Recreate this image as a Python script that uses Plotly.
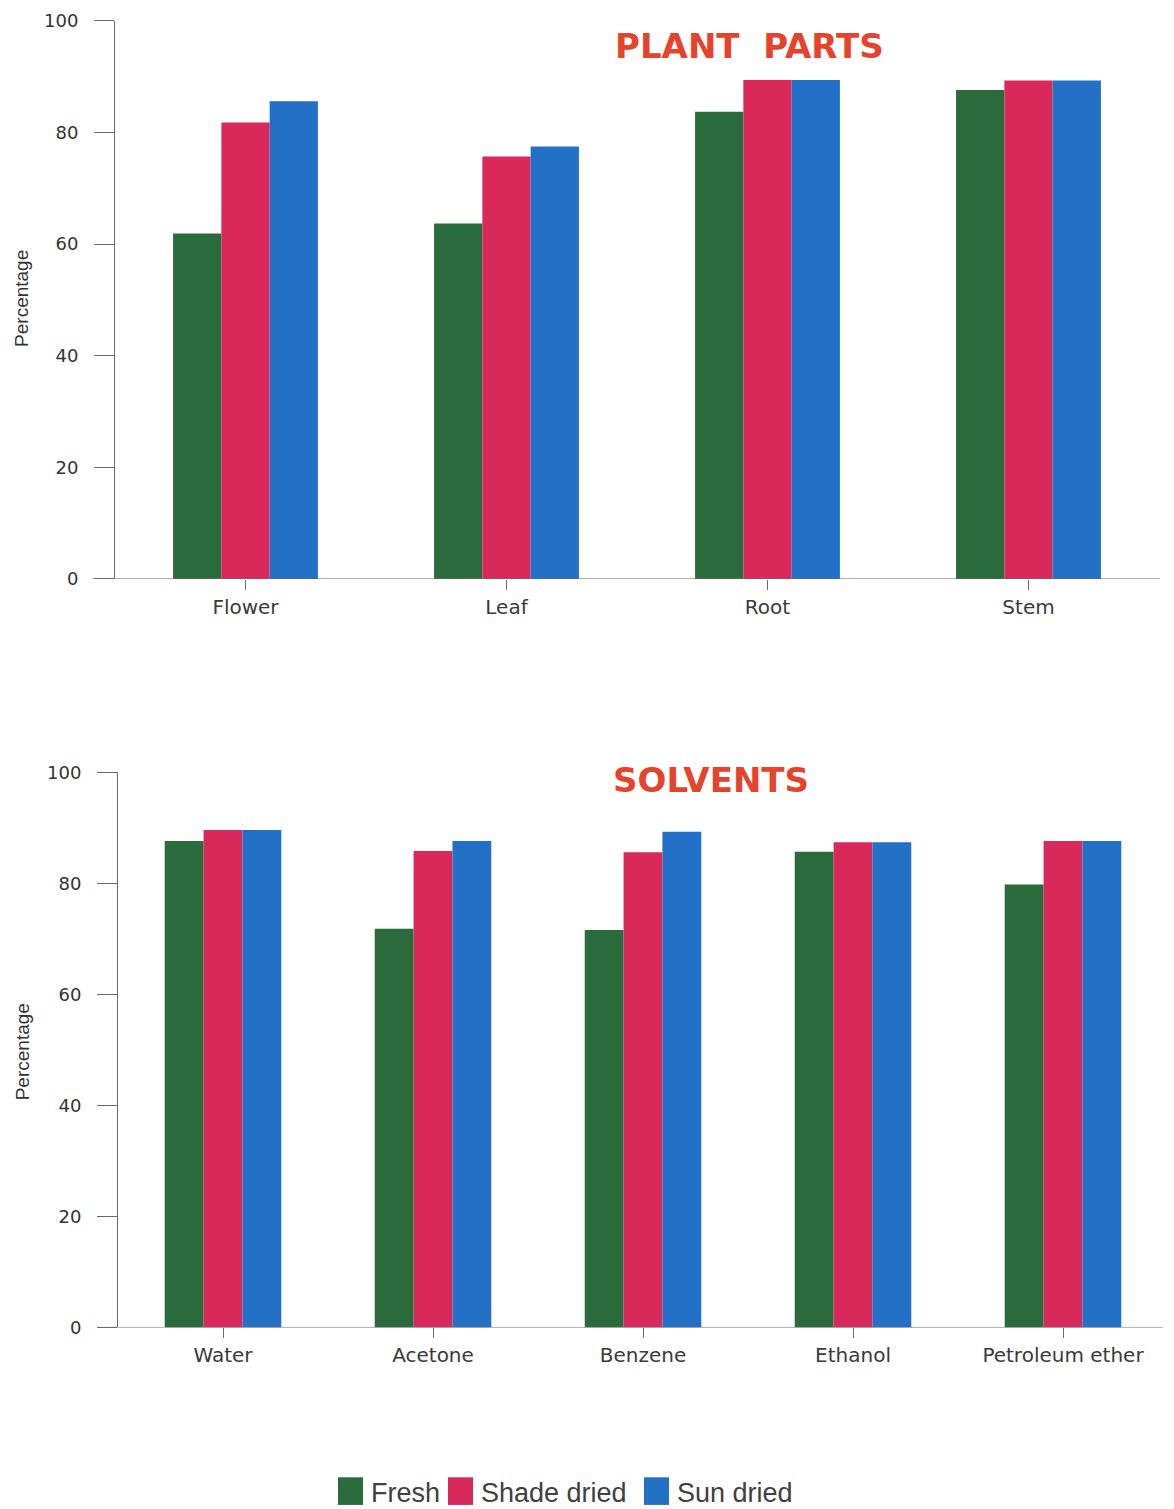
import plotly.graph_objects as go

# ---- data -------------------------------------------------------------
parts = ["Flower", "Leaf", "Root", "Stem"]
parts_fresh = [61.9, 63.7, 83.7, 87.6]
parts_shade = [81.8, 75.7, 89.4, 89.3]
parts_sun = [85.6, 77.5, 89.4, 89.3]

solvents = ["Water", "Acetone", "Benzene", "Ethanol", "Petroleum ether"]
solv_fresh = [87.6, 71.8, 71.6, 85.7, 79.8]
solv_shade = [89.6, 85.8, 85.6, 87.4, 87.6]
solv_sun = [89.6, 87.6, 89.3, 87.4, 87.6]

series_names = ["Fresh", "Shade dried", "Sun dried"]
series_colors = ["#2a6b3b", "#d8295a", "#2271c7"]
y_ticks = [0, 20, 40, 60, 80, 100]

W, H = 1174, 1509


def px_x(p):
    return p / W


def px_y(p):
    return 1 - p / H


TICK_FONT = dict(family="DejaVu Sans", size=18, color="#333333")
CAT_FONT = dict(family="DejaVu Sans", size=20, color="#3a3a3a")
AXIS_COLOR = "#6a6a6a"

fig = go.Figure()

panels = [
    ("x", "y", parts, [parts_fresh, parts_shade, parts_sun]),
    ("x2", "y2", solvents, [solv_fresh, solv_shade, solv_sun]),
]
for xa, ya, cats, values in panels:
    for name, color, vals in zip(series_names, series_colors, values):
        fig.add_trace(go.Bar(
            x=cats, y=vals, name=name, marker=dict(color=color, line=dict(width=0)),
            xaxis=xa, yaxis=ya, showlegend=False,
        ))


def y_axis(domain, anchor):
    return dict(
        domain=domain, range=[0, 100], anchor=anchor,
        tickvals=y_ticks, ticktext=[str(v) for v in y_ticks],
        ticks="outside", ticklen=20, tickcolor=AXIS_COLOR, tickwidth=1,
        ticklabelstandoff=12,
        showline=True, linecolor=AXIS_COLOR, linewidth=1,
        showgrid=False, zeroline=False, tickfont=TICK_FONT,
    )


def x_axis(domain, anchor):
    return dict(
        domain=domain, anchor=anchor, type="category",
        ticks="outside", ticklen=10, tickcolor=AXIS_COLOR, tickwidth=1,
        showline=False, showgrid=False, zeroline=False, tickfont=CAT_FONT,
        ticklabelstandoff=0,
    )


fig.update_layout(
    width=W, height=H,
    margin=dict(l=0, r=0, t=0, b=0),
    paper_bgcolor="white", plot_bgcolor="white",
    barmode="group", bargap=0.445, bargroupgap=0,
    xaxis=x_axis([px_x(115), px_x(1159)], "y"),
    yaxis=y_axis([px_y(576), px_y(10)], "x"),
    xaxis2=x_axis([px_x(118), px_x(1168)], "y2"),
    yaxis2=y_axis([px_y(1335), px_y(772)], "x2"),
    showlegend=False,
)

# baselines extend a little past the value axis
fig.add_shape(type="line", xref="paper", yref="y", x0=px_x(92), x1=px_x(1160),
              y0=0, y1=0, line=dict(color=AXIS_COLOR, width=1))
fig.add_shape(type="line", xref="paper", yref="y2", x0=px_x(97), x1=px_x(1163),
              y0=0, y1=0, line=dict(color=AXIS_COLOR, width=1))

TITLE_FONT = dict(family="DejaVu Sans", size=34, color="#e6432d", weight="bold")
fig.add_annotation(text="PLANT\u00a0\u00a0PARTS", xref="paper", yref="paper",
                   x=px_x(749), y=px_y(35), showarrow=False, font=TITLE_FONT,
                   xanchor="center", yanchor="middle")
fig.add_annotation(text="SOLVENTS", xref="paper", yref="paper",
                   x=px_x(711), y=px_y(780), showarrow=False, font=TITLE_FONT,
                   xanchor="center", yanchor="middle")

LABEL_FONT = dict(family="Liberation Sans Narrow, Liberation Sans", size=19, color="#333333")
for yc in (292, 1056):
    fig.add_annotation(text="Percentage", xref="paper", yref="paper",
                       x=px_x(22), y=px_y(yc), showarrow=False, textangle=-90,
                       font=LABEL_FONT, xanchor="center", yanchor="middle")

# legend: square swatches followed by the series names
LEGEND_FONT = dict(family="Liberation Sans Narrow, Liberation Sans", size=27, color="#404040")
legend_left = [338, 448, 644]
for left, name, color in zip(legend_left, series_names, series_colors):
    fig.add_shape(type="rect", xref="paper", yref="paper",
                  x0=px_x(left), x1=px_x(left + 25), y0=px_y(1515), y1=px_y(1487),
                  fillcolor=color, line=dict(width=0))
    fig.add_annotation(text=name, xref="paper", yref="paper",
                       x=px_x(left + 31), y=px_y(1503), showarrow=False,
                       font=LEGEND_FONT, xanchor="left", yanchor="middle")

fig.write_html("out.html")
